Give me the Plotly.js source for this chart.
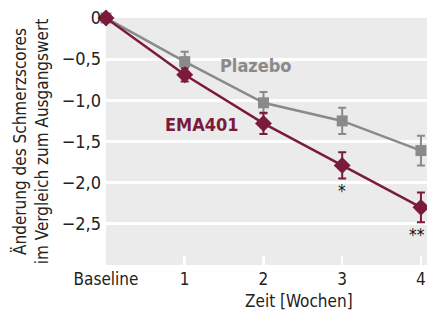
<!DOCTYPE html>
<html><head><meta charset="utf-8">
<script src="https://cdn.plot.ly/plotly-3.0.1.min.js"></script>
<style>html,body{margin:0;padding:0;background:#fff}#c{width:427px;height:322px}</style>
</head><body><div id="c"></div>
<script>
const xVals = [0, 1, 2, 3, 4];
const xLabels = ["Baseline", "1", "2", "3", "4"];
const placebo = [0, -0.53, -1.03, -1.25, -1.61];
const placeboErr = [0, 0.12, 0.13, 0.16, 0.18];
const ema401 = [0, -0.69, -1.28, -1.79, -2.30];
const emaErr = [0, 0.08, 0.13, 0.16, 0.18];
const sigLabels = ["", "", "", "*", "**"];

const grey = "#8a8a8a", red = "#7b1b3b";
const font = "DejaVu Sans Condensed, sans-serif";

const traces = [
  {x: xVals, y: placebo, type: "scatter", mode: "lines+markers",
   line: {color: grey, width: 2.5}, marker: {symbol: "square", size: 11, color: grey},
   error_y: {type: "data", array: placeboErr, visible: true, color: grey, thickness: 2, width: 4},
   cliponaxis: false, showlegend: false},
  {x: xVals, y: ema401, type: "scatter", mode: "lines+markers",
   line: {color: red, width: 2.5}, marker: {symbol: "diamond", size: 13, color: red},
   error_y: {type: "data", array: emaErr, visible: true, color: red, thickness: 2, width: 4},
   cliponaxis: false, showlegend: false}
];

const annotations = [
  {x: 1.9, y: -0.58, text: "<b>Plazebo</b>", showarrow: false, font: {family: font, size: 18, color: grey}},
  {x: 1.22, y: -1.29, text: "<b>EMA401</b>", showarrow: false, font: {family: font, size: 18, color: red}},
  {xref: "paper", yref: "paper", x: 0.6, y: -0.145, yanchor: "middle", text: "Zeit [Wochen]", showarrow: false,
   font: {family: font, size: 17, color: "#222"}}
];
sigLabels.forEach((s, i) => {
  if (s) annotations.push({x: xVals[i], y: ema401[i] - emaErr[i] - 0.15, text: s, showarrow: false,
    xanchor: i === xVals.length - 1 ? "right" : "center", xshift: i === xVals.length - 1 ? 6 : 0,
    font: {family: font, size: 17, color: "#111"}});
});

const layout = {
  width: 427, height: 322,
  margin: {l: 106, r: 0, t: 18, b: 57},
  paper_bgcolor: "#fff", plot_bgcolor: "#ebebeb",
  separators: ",.",
  font: {family: font, size: 17, color: "#222"},
  xaxis: {range: [0, 4.077], tickvals: xVals, ticktext: xLabels, showgrid: false, zeroline: false,
    ticks: "inside", ticklen: 9, tickwidth: 2.5, tickcolor: "#fff", showline: false,
    ticklabelstandoff: 2,
    tickfont: {family: font, size: 17, color: "#222"}},
  yaxis: {range: [-3, 0], tickvals: [0, -0.5, -1, -1.5, -2, -2.5],
    ticktext: ["0", "−0,5", "−1,0", "−1,5", "−2,0", "−2,5"], gridcolor: "#fff", gridwidth: 3,
    zeroline: false, showline: false, ticks: "", ticklabelstandoff: 4,
    tickfont: {family: font, size: 18, color: "#222"},
    title: {text: "Änderung des Schmerzscores<br>im Vergleich zum Ausgangswert", standoff: 8,
      font: {family: font, size: 17, color: "#222"}}},
  annotations: annotations
};
Plotly.newPlot("c", traces, layout, {displayModeBar: false, staticPlot: true});
</script></body></html>
